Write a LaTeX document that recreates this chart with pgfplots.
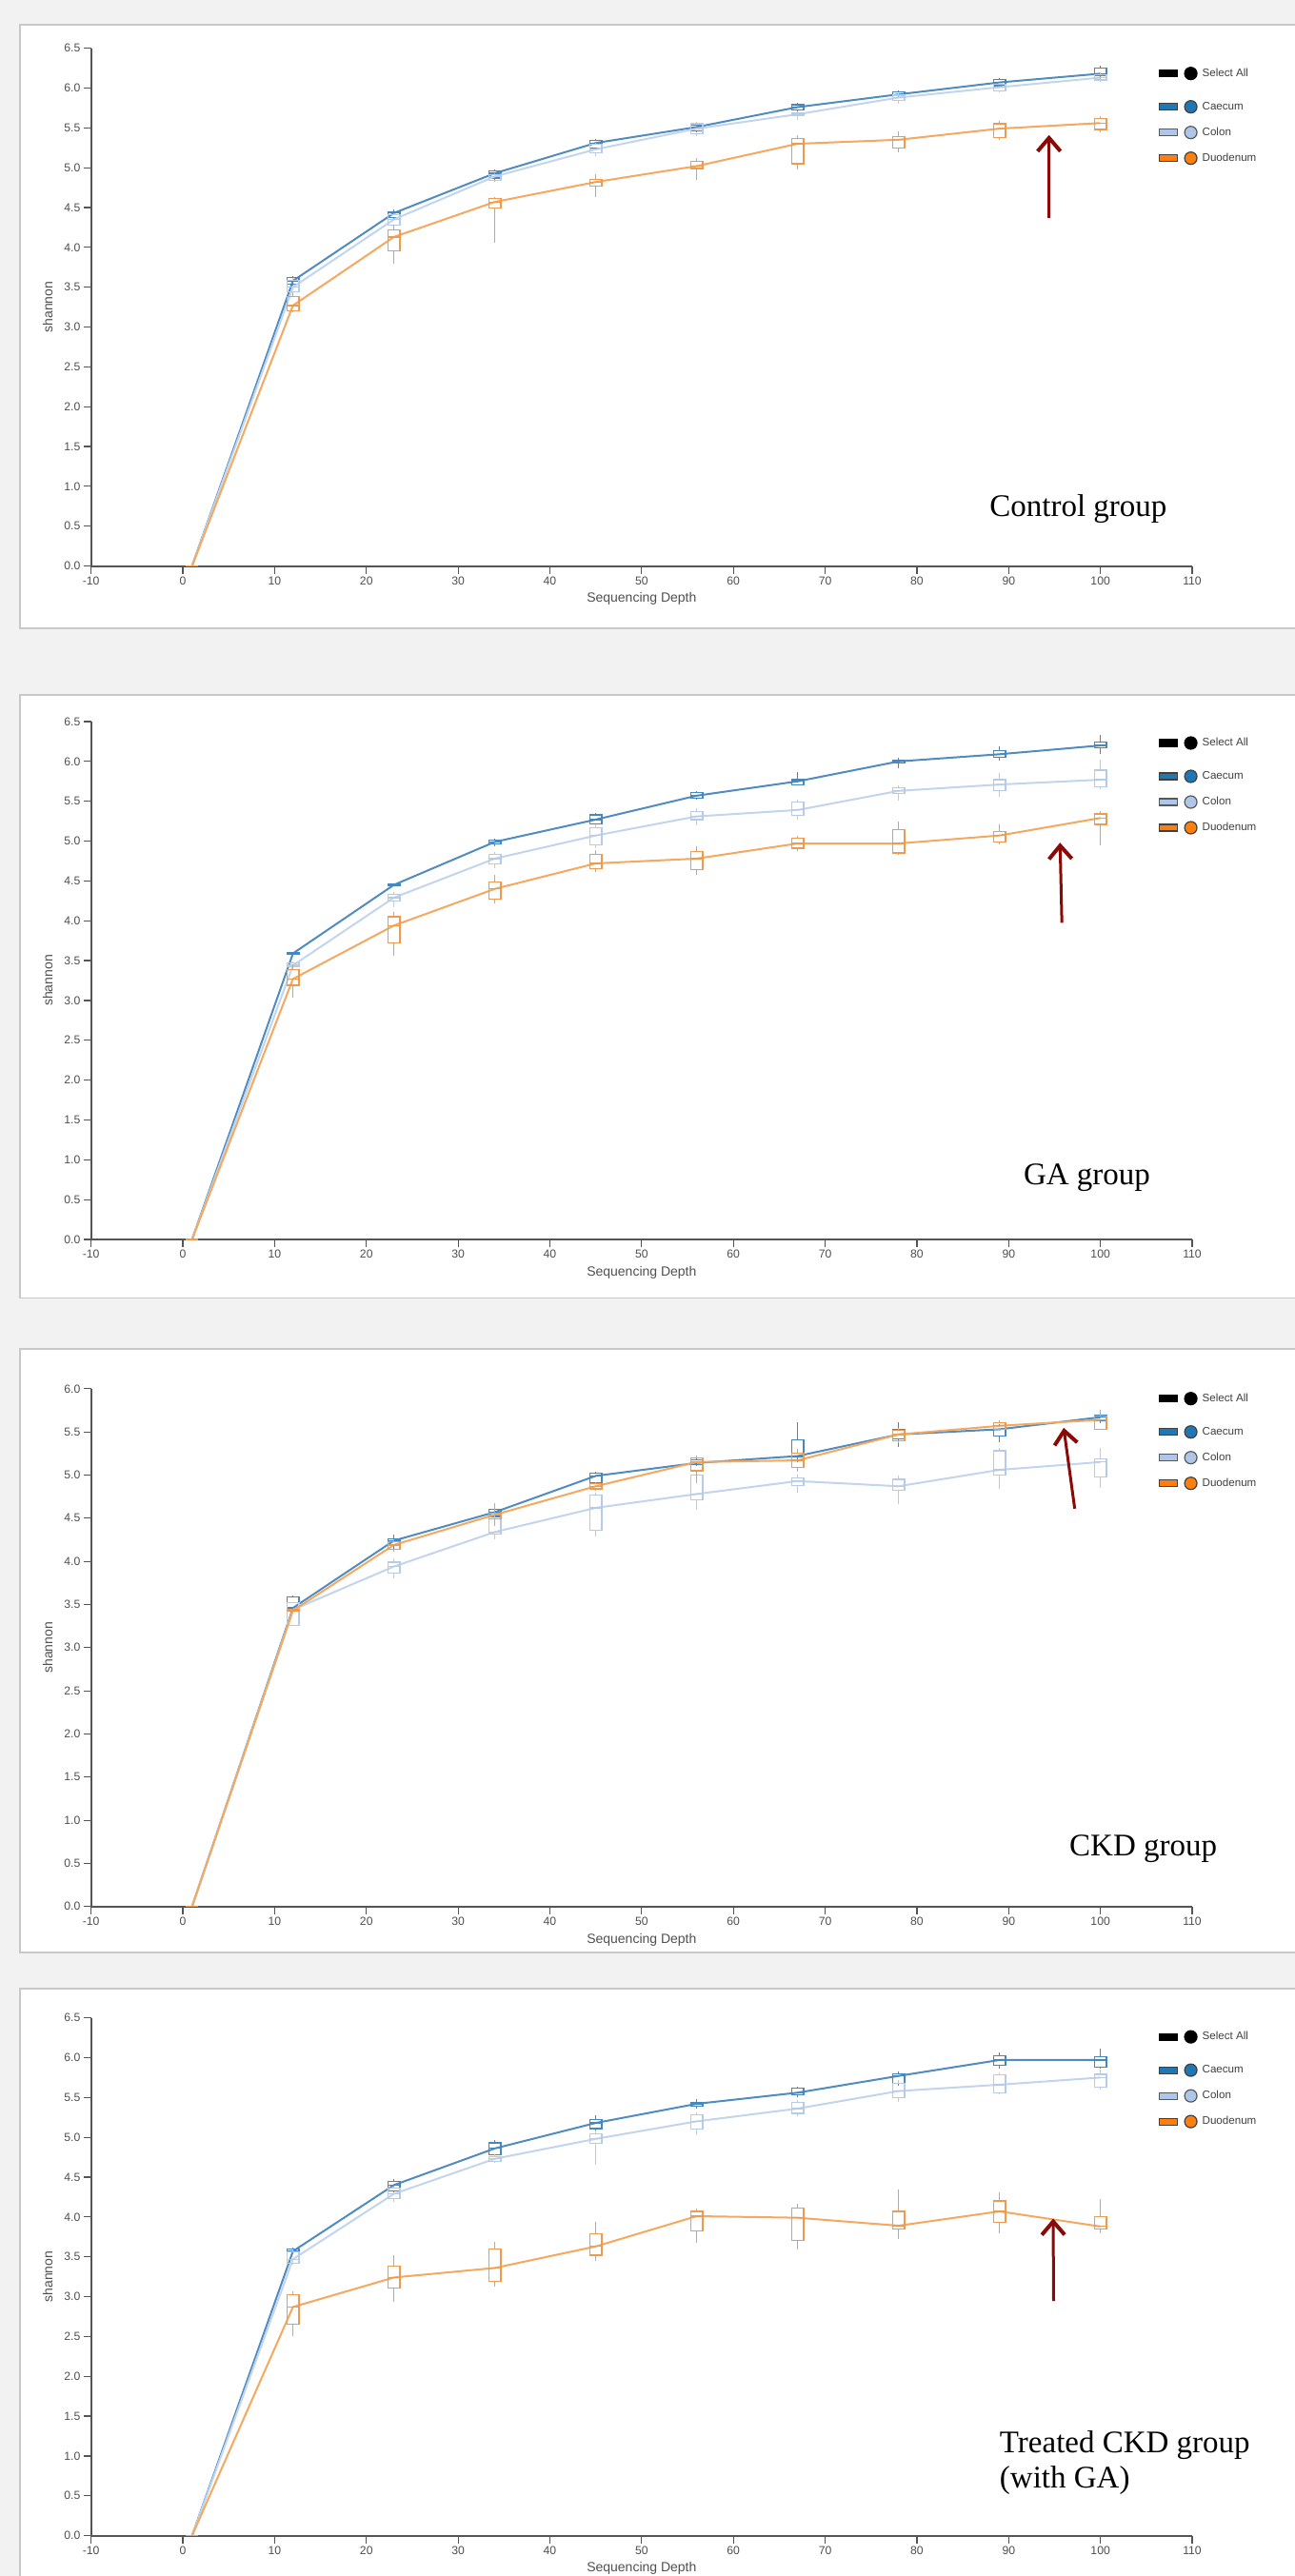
\documentclass[border=0pt]{standalone}
\usepackage{fontspec}
\setmainfont{Liberation Sans}
\newfontfamily\grpfont{Liberation Serif}
\usepackage{pgfplots}
\usepackage{pgfplotstable}
\pgfplotsset{compat=1.18}
\usepgfplotslibrary{statistics}
\usetikzlibrary{arrows.meta}

\definecolor{bg}{RGB}{242,242,242}
\definecolor{framec}{RGB}{200,200,200}
\definecolor{axgray}{RGB}{85,85,85}
\definecolor{lblgray}{RGB}{80,80,80}
\definecolor{caeL}{RGB}{80,140,192}
\definecolor{caeB}{RGB}{70,135,190}
\definecolor{colL}{RGB}{195,213,236}
\definecolor{colB}{RGB}{182,203,232}
\definecolor{duoL}{RGB}{244,168,96}
\definecolor{duoB}{RGB}{238,155,80}
\definecolor{caeF}{RGB}{31,119,180}
\definecolor{colF}{RGB}{174,199,232}
\definecolor{duoF}{RGB}{255,127,14}
\definecolor{arrowred}{RGB}{140,10,5}

% ---------------- data: x, lower whisker, lower quartile, median, upper quartile, upper whisker
\pgfplotstableread{
x lw lq med uq uw
1 0 0 0 0 0
12 3.52 3.54 3.58 3.62 3.64
23 4.35 4.37 4.43 4.45 4.47
34 4.85 4.87 4.93 4.96 4.98
45 5.23 5.25 5.31 5.34 5.36
56 5.44 5.46 5.51 5.54 5.56
67 5.70 5.72 5.76 5.79 5.81
78 5.88 5.90 5.92 5.95 5.97
89 6.01 6.03 6.07 6.11 6.13
100 6.11 6.15 6.18 6.25 6.28
}\PaCae
\pgfplotstableread{
x lw lq med uq uw
1 0 0 0 0 0
12 3.40 3.44 3.50 3.59 3.61
23 4.25 4.28 4.35 4.41 4.43
34 4.82 4.84 4.89 4.91 4.93
45 5.15 5.19 5.23 5.29 5.31
56 5.40 5.43 5.49 5.55 5.57
67 5.60 5.65 5.67 5.69 5.71
78 5.80 5.84 5.88 5.91 5.93
89 5.94 5.96 6.01 6.05 6.07
100 6.08 6.10 6.13 6.17 6.19
}\PaCol
\pgfplotstableread{
x lw lq med uq uw
1 0 0 0 0 0
12 3.18 3.20 3.27 3.38 3.42
23 3.80 3.96 4.13 4.22 4.28
34 4.06 4.49 4.57 4.61 4.63
45 4.63 4.77 4.82 4.85 4.92
56 4.85 4.99 5.02 5.08 5.12
67 4.98 5.05 5.30 5.37 5.41
78 5.19 5.25 5.35 5.39 5.45
89 5.35 5.38 5.49 5.55 5.59
100 5.44 5.48 5.56 5.62 5.65
}\PaDuo

\pgfplotstableread{
x lw lq med uq uw
1 0 0 0 0 0
12 3.56 3.58 3.59 3.60 3.61
23 4.43 4.44 4.45 4.46 4.47
34 4.94 4.96 4.99 5.01 5.03
45 5.20 5.22 5.27 5.33 5.35
56 5.52 5.54 5.57 5.61 5.63
67 5.70 5.71 5.75 5.77 5.87
78 5.92 5.98 6.00 6.02 6.04
89 6.01 6.05 6.09 6.14 6.19
100 6.09 6.17 6.20 6.24 6.33
}\PbCae
\pgfplotstableread{
x lw lq med uq uw
1 0 0 0 0 0
12 3.40 3.42 3.44 3.47 3.49
23 4.17 4.25 4.29 4.33 4.36
34 4.66 4.71 4.78 4.83 4.86
45 4.91 4.95 5.07 5.17 5.21
56 5.20 5.27 5.31 5.37 5.41
67 5.27 5.32 5.39 5.49 5.52
78 5.51 5.60 5.63 5.67 5.70
89 5.55 5.63 5.71 5.77 5.86
100 5.65 5.68 5.77 5.89 6.02
}\PbCol
\pgfplotstableread{
x lw lq med uq uw
1 0 0 0 0 0
12 3.04 3.19 3.27 3.39 3.45
23 3.56 3.72 3.94 4.05 4.11
34 4.22 4.27 4.40 4.49 4.58
45 4.61 4.65 4.72 4.83 4.89
56 4.58 4.64 4.78 4.87 4.94
67 4.88 4.91 4.97 5.04 5.07
78 4.83 4.85 4.97 5.14 5.24
89 4.96 4.99 5.07 5.12 5.21
100 4.95 5.21 5.29 5.34 5.38
}\PbDuo

\pgfplotstableread{
x lw lq med uq uw
1 0 0 0 0 0
12 3.42 3.44 3.46 3.59 3.60
23 4.15 4.19 4.24 4.26 4.31
34 4.49 4.52 4.57 4.60 4.62
45 4.89 4.91 4.99 5.02 5.04
56 5.10 5.12 5.14 5.18 5.21
67 5.15 5.21 5.22 5.41 5.61
78 5.32 5.42 5.47 5.53 5.61
89 5.38 5.45 5.53 5.57 5.59
100 5.60 5.63 5.67 5.69 5.71
}\PcCae
\pgfplotstableread{
x lw lq med uq uw
1 0 0 0 0 0
12 3.26 3.26 3.44 3.52 3.53
23 3.80 3.86 3.94 3.99 4.03
34 4.25 4.32 4.34 4.49 4.53
45 4.29 4.36 4.62 4.77 4.80
56 4.60 4.71 4.78 5.00 5.02
67 4.80 4.88 4.93 4.97 5.01
78 4.66 4.82 4.87 4.95 4.99
89 4.84 5.00 5.06 5.28 5.31
100 4.85 4.98 5.15 5.19 5.31
}\PcCol
\pgfplotstableread{
x lw lq med uq uw
1 0 0 0 0 0
12 3.41 3.42 3.43 3.44 3.45
23 4.11 4.14 4.19 4.23 4.26
34 4.41 4.49 4.54 4.56 4.67
45 4.82 4.84 4.87 4.90 4.92
56 4.91 5.05 5.15 5.20 5.23
67 5.04 5.09 5.17 5.25 5.30
78 5.37 5.40 5.47 5.52 5.55
89 5.51 5.53 5.57 5.61 5.63
100 5.52 5.53 5.64 5.68 5.75
}\PcDuo

\pgfplotstableread{
x lw lq med uq uw
1 0 0 0 0 0
12 3.40 3.42 3.57 3.60 3.62
23 4.31 4.33 4.40 4.45 4.47
34 4.76 4.78 4.86 4.93 4.96
45 5.08 5.11 5.18 5.22 5.28
56 5.36 5.39 5.42 5.44 5.48
67 5.50 5.53 5.56 5.62 5.64
78 5.65 5.68 5.77 5.80 5.83
89 5.86 5.90 5.97 6.02 6.07
100 5.86 5.88 5.97 6.01 6.11
}\PdCae
\pgfplotstableread{
x lw lq med uq uw
1 0 0 0 0 0
12 3.40 3.42 3.47 3.56 3.58
23 4.19 4.23 4.29 4.36 4.38
34 4.68 4.70 4.73 4.76 4.79
45 4.66 4.92 4.98 5.04 5.08
56 5.02 5.10 5.20 5.28 5.31
67 5.27 5.30 5.36 5.44 5.47
78 5.44 5.50 5.58 5.68 5.72
89 5.54 5.56 5.66 5.78 5.82
100 5.60 5.63 5.75 5.79 5.85
}\PdCol
\pgfplotstableread{
x lw lq med uq uw
1 0 0 0 0 0
12 2.50 2.65 2.87 3.02 3.07
23 2.93 3.11 3.24 3.38 3.52
34 3.12 3.19 3.36 3.60 3.69
45 3.45 3.52 3.63 3.79 3.94
56 3.67 3.82 4.01 4.07 4.11
67 3.59 3.71 3.99 4.11 4.17
78 3.72 3.85 3.89 4.07 4.35
89 3.80 3.93 4.07 4.20 4.31
100 3.79 3.85 3.88 4.00 4.22
}\PdDuo

% one series: line through the medians, then one box per depth
\newcommand\drawseries[3]{%
  \addplot[#2, line width=1pt, mark=none, forget plot] table[x=x, y=med] {#1};
  \pgfplotsinvokeforeach{0,...,9}{%
    \pgfplotstablegetelem{##1}{x}\of#1\let\vx\pgfplotsretval
    \pgfplotstablegetelem{##1}{lw}\of#1\let\vlw\pgfplotsretval
    \pgfplotstablegetelem{##1}{lq}\of#1\let\vlq\pgfplotsretval
    \pgfplotstablegetelem{##1}{med}\of#1\let\vmed\pgfplotsretval
    \pgfplotstablegetelem{##1}{uq}\of#1\let\vuq\pgfplotsretval
    \pgfplotstablegetelem{##1}{uw}\of#1\let\vuw\pgfplotsretval
    \edef\doit{\noexpand\addplot[forget plot, draw=#3, line width=0.6pt,
      boxplot prepared={draw direction=y, draw position=\vx, lower whisker=\vlw, lower quartile=\vlq,
        median=\vmed, upper quartile=\vuq, upper whisker=\vuw,
        box extend=1.3, whisker extend=0}] coordinates {};}%
    \doit
  }%
}

\newcommand\lgsw[2]{%
  \draw[fill=#1, draw=#2, line width=0.6pt] (0pt,-1.75pt) rectangle (9.5pt,1.75pt);
  \draw[fill=#1, draw=#2, line width=0.6pt] (16.5pt,0pt) circle (3.25pt);}

\newcommand\legendall{%
  \addlegendimage{legend image code/.code={\lgsw{black}{black}}}
  \addlegendentry[text height=9.5pt, text depth=6.5pt]{Select All}
  \addlegendimage{legend image code/.code={\lgsw{caeF}{black!75}}}
  \addlegendentry{Caecum}
  \addlegendimage{legend image code/.code={\lgsw{colF}{black!65}}}
  \addlegendentry{Colon}
  \addlegendimage{legend image code/.code={\lgsw{duoF}{black!75}}}
  \addlegendentry{Duodenum}
}

\pgfplotsset{
  panel/.style={
    scale only axis, width=578.15pt, height=272pt,
    xmin=-10, xmax=110, ymin=0,
    axis x line=bottom, axis y line=left,
    axis line style={-, draw=axgray, line width=1pt},
    tick align=outside, major tick length=4pt,
    tick style={draw=axgray, line width=0.6pt},
    xtick={-10,0,10,20,30,40,50,60,70,80,90,100,110},
    tick label style={font=\fontsize{6.1pt}{7pt}\selectfont, text=lblgray, inner sep=1.5pt},
    /pgf/number format/assume math mode=true,
    yticklabel style={/pgf/number format/fixed, /pgf/number format/fixed zerofill, /pgf/number format/precision=1},
    xlabel={Sequencing Depth}, ylabel={shannon},
    label style={font=\fontsize{7pt}{8pt}\selectfont, text=lblgray},
    xlabel style={at={(axis description cs:0.5,-0.0636)}, anchor=center},
    ylabel style={at={(axis description cs:-0.0395,0.5)}, anchor=center},
    clip=false,
    legend cell align=left,
    legend style={anchor=north west, draw=none, fill=none, inner sep=0pt, outer sep=0pt,
      row sep=5.5pt, column sep=2.5pt,
      font=\fontsize{5.8pt}{7pt}\selectfont, text=black!75,
      nodes={inner sep=0pt, text height=5.5pt, text depth=2.5pt}},
  },
}
\tikzset{
  grp/.style={anchor=west, font=\grpfont\fontsize{16.5pt}{18.5pt}\selectfont, text=black},
  redarrow/.style={draw=arrowred, line width=1.5pt, -{Straight Barb[length=7pt, width=12pt, line width=2pt]}},
}

\begin{document}
\begin{tikzpicture}
\useasboundingbox (0pt,0pt) rectangle (680pt,1353pt);
\begin{scope}
\clip (0pt,0pt) rectangle (680pt,1353pt);
\fill[bg] (0pt,0pt) rectangle (680pt,1353pt);
\filldraw[fill=white, draw=framec, line width=0.6pt] (10.5pt,1023pt) rectangle (700pt,1340pt);
\filldraw[fill=white, draw=framec, line width=0.6pt] (10.5pt,671.25pt) rectangle (700pt,988pt);
\filldraw[fill=white, draw=framec, line width=0.6pt] (10.5pt,327.5pt) rectangle (700pt,644.5pt);
\filldraw[fill=white, draw=framec, line width=0.6pt] (10.5pt,-10pt) rectangle (700pt,308.5pt);

% ---------- Control group
\begin{axis}[panel, at={(47.85pt,1055.7pt)}, anchor=south west, ymax=6.5,
  ytick={0,0.5,1,1.5,2,2.5,3,3.5,4,4.5,5,5.5,6,6.5},
  legend style={at={(0.9697,0.9805)}}]
\legendall
\drawseries{\PaCae}{caeL}{caeB}
\drawseries{\PaCol}{colL}{colB}
\drawseries{\PaDuo}{duoL}{duoB}
\draw[redarrow] (axis cs:94.4,4.37) -- (axis cs:94.4,5.41);
\node[grp] at (axis cs:87.2,0.72) {Control group};
\end{axis}

% ---------- GA group
\begin{axis}[panel, at={(47.85pt,702pt)}, anchor=south west, ymax=6.5,
  ytick={0,0.5,1,1.5,2,2.5,3,3.5,4,4.5,5,5.5,6,6.5},
  legend style={at={(0.9697,0.988)}}]
\legendall
\drawseries{\PbCae}{caeL}{caeB}
\drawseries{\PbCol}{colL}{colB}
\drawseries{\PbDuo}{duoL}{duoB}
\draw[redarrow] (axis cs:95.8,3.975) -- (axis cs:95.6,4.98);
\node[grp] at (axis cs:90.9,0.78) {GA group};
\end{axis}

% ---------- CKD group
\begin{axis}[panel, at={(47.85pt,351.6pt)}, anchor=south west, ymax=6.0,
  ytick={0,0.5,1,1.5,2,2.5,3,3.5,4,4.5,5,5.5,6},
  legend style={at={(0.9697,1.0103)}}]
\legendall
\drawseries{\PcCae}{caeL}{caeB}
\drawseries{\PcCol}{colL}{colB}
\drawseries{\PcDuo}{duoL}{duoB}
\draw[redarrow] (axis cs:97.2,4.61) -- (axis cs:96.0,5.547);
\node[grp] at (axis cs:95.9,0.67) {CKD group};
\end{axis}

% ---------- Treated CKD group
\begin{axis}[panel, at={(47.85pt,21.2pt)}, anchor=south west, ymax=6.5,
  ytick={0,0.5,1,1.5,2,2.5,3,3.5,4,4.5,5,5.5,6,6.5},
  legend style={at={(0.9697,0.9926)}}]
\legendall
\drawseries{\PdCae}{caeL}{caeB}
\drawseries{\PdCol}{colL}{colB}
\drawseries{\PdDuo}{duoL}{duoB}
\draw[redarrow] (axis cs:94.9,2.945) -- (axis cs:94.85,3.98);
\node[grp, align=left] at (axis cs:88.3,0.92) {Treated CKD group\\(with GA)};
\end{axis}
\end{scope}
\end{tikzpicture}
\end{document}
